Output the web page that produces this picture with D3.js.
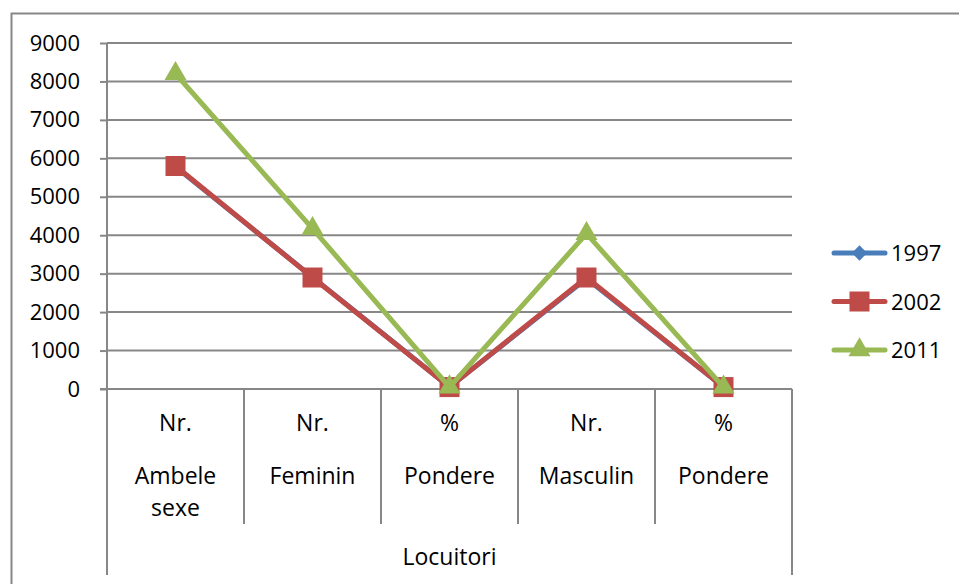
<!DOCTYPE html>
<html>
<head>
<meta charset="utf-8">
<script src="https://cdn.jsdelivr.net/npm/d3@7"></script>
<style>
  body { margin: 0; background: #fff; }
  svg text { font-family: "Open Sans", sans-serif; font-size: 22px; fill: #000; }
  svg text.cat { font-size: 23px; }
</style>
</head>
<body>
<div id="chart"></div>
<script>
// category levels
const units = ["Nr.", "Nr.", "%", "Nr.", "%"];
const groups = ["Ambele sexe", "Feminin", "Pondere", "Masculin", "Pondere"];
const topLabel = "Locuitori";

// series values
const years = ["1997", "2002", "2011"];
const v1997 = [5780, 2910, 50.2, 2870, 49.8];
const v2002 = [5800, 2900, 50.0, 2900, 50.0];
const v2011 = [8200, 4170, 50.9, 4040, 49.3];
const yTicks = [0, 1000, 2000, 3000, 4000, 5000, 6000, 7000, 8000, 9000];

const colors = ["#4a7ebb", "#be4b48", "#98b954"];
const shapes = [d3.symbolDiamond2, d3.symbolSquare, d3.symbolTriangle];
const shapeSize = [150, 400, 210];

const width = 959, height = 584;
const plot = {left: 107, right: 792, top: 43, bottom: 389};
const gridColor = "#878787";

const svg = d3.select("#chart").append("svg")
    .attr("width", width).attr("height", height);

// outer chart border
svg.append("rect")
    .attr("x", 11.5).attr("y", 13.5)
    .attr("width", 960).attr("height", 600)
    .attr("fill", "none").attr("stroke", gridColor).attr("stroke-width", 2);

const x = d3.scaleBand().domain(d3.range(units.length)).range([plot.left, plot.right]);
const y = d3.scaleLinear().domain([0, 9000]).range([plot.bottom, plot.top]);

// horizontal gridlines
svg.append("g").selectAll("line").data(yTicks.filter(t => t > 0)).join("line")
    .attr("x1", plot.left).attr("x2", plot.right)
    .attr("y1", d => y(d)).attr("y2", d => y(d))
    .attr("stroke", gridColor).attr("stroke-width", 2);

// y axis
const yAxis = svg.append("g")
    .attr("transform", `translate(${plot.left},0)`)
    .call(d3.axisLeft(y).tickValues(yTicks).tickSize(7).tickPadding(20).tickFormat(d3.format("d")));
yAxis.select(".domain").remove();
yAxis.selectAll(".tick line").attr("stroke", gridColor).attr("stroke-width", 2);
yAxis.selectAll(".tick text").attr("font-size", 22).attr("font-family", "Open Sans, sans-serif");

// category axis line + vertical dividers
svg.append("line")
    .attr("x1", plot.left - 7).attr("x2", plot.right)
    .attr("y1", plot.bottom).attr("y2", plot.bottom)
    .attr("stroke", gridColor).attr("stroke-width", 2);
svg.append("line")
    .attr("x1", plot.left).attr("x2", plot.left)
    .attr("y1", plot.top).attr("y2", 575)
    .attr("stroke", gridColor).attr("stroke-width", 2);

const edges = d3.range(units.length + 1).map(i => i < units.length ? x(i) : x(units.length - 1) + x.bandwidth());
svg.append("g").selectAll("line").data(edges).join("line")
    .attr("x1", d => d).attr("x2", d => d)
    .attr("y1", plot.bottom)
    .attr("y2", (d, i) => (i === 0 || i === units.length) ? 575 : 524)
    .attr("stroke", gridColor).attr("stroke-width", 2);

// category labels
const cats = svg.append("g").attr("text-anchor", "middle");
units.forEach((u, i) => {
  const cx = x(i) + x.bandwidth() / 2;
  cats.append("text").attr("class", "cat").attr("x", cx).attr("y", 431).text(u);
  const t = cats.append("text").attr("class", "cat").attr("x", cx).attr("y", 484).text(groups[i]);
  if (t.node().getComputedTextLength() > x.bandwidth() - 20) {
    const words = groups[i].split(" ");
    t.text(null);
    words.forEach((w, k) => t.append("tspan").attr("x", cx).attr("dy", k === 0 ? 0 : 32).text(w));
  }
});
cats.append("text").attr("class", "cat")
    .attr("x", (plot.left + plot.right) / 2).attr("y", 565).text(topLabel);

// series
const series = [v1997, v2002, v2011];
const line = d3.line().x((d, i) => x(i) + x.bandwidth() / 2).y(d => y(d));

series.forEach((vals, s) => {
  const g = svg.append("g");
  g.append("path").datum(vals)
      .attr("d", line)
      .attr("fill", "none").attr("stroke", colors[s]).attr("stroke-width", 5)
      .attr("stroke-linejoin", "round");
  g.selectAll("path.m").data(vals).join("path").attr("class", "m")
      .attr("transform", (d, i) => `translate(${x(i) + x.bandwidth() / 2},${y(d)})`)
      .attr("d", d3.symbol(shapes[s], shapeSize[s]))
      .attr("fill", colors[s]);
});

// legend
const legend = svg.append("g");
years.forEach((yr, s) => {
  const ly = 253 + s * 48.5;
  legend.append("line")
      .attr("x1", 834).attr("x2", 885).attr("y1", ly).attr("y2", ly)
      .attr("stroke", colors[s]).attr("stroke-width", 5).attr("stroke-linecap", "round");
  legend.append("path")
      .attr("transform", `translate(859.5,${ly})`)
      .attr("d", d3.symbol(shapes[s], shapeSize[s]))
      .attr("fill", colors[s]);
  legend.append("text").attr("x", 891).attr("y", ly + 8).text(yr);
});
</script>
</body>
</html>
